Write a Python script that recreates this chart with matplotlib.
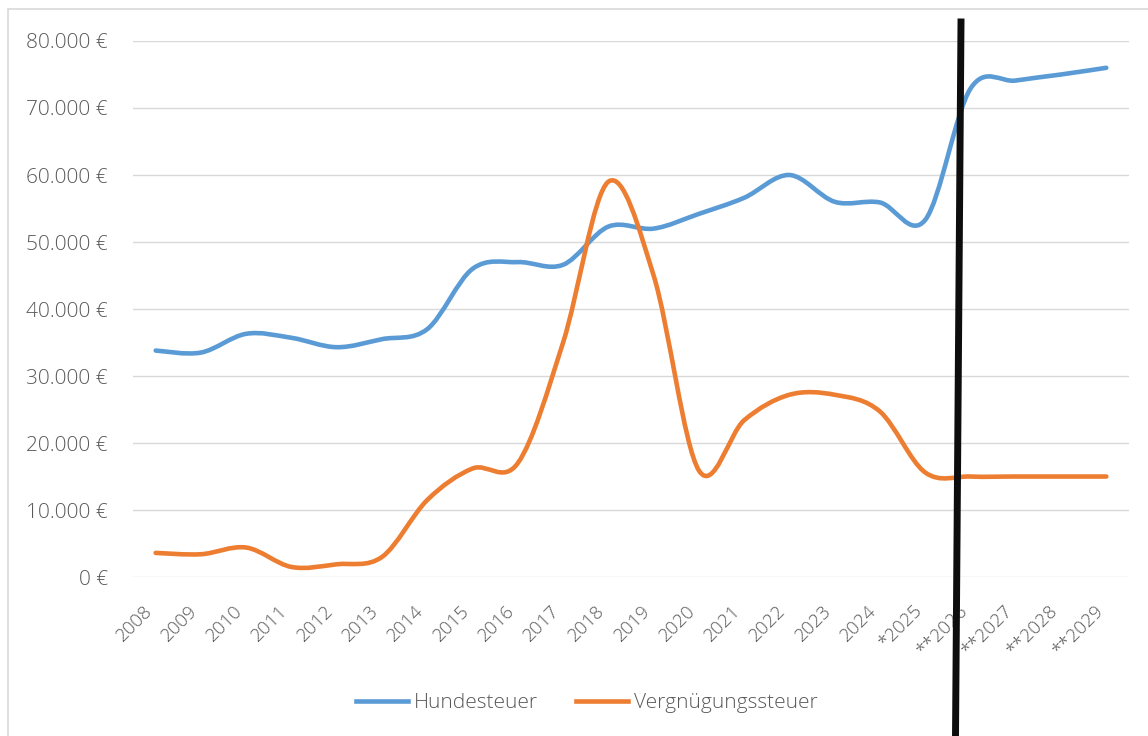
import matplotlib.pyplot as plt
from matplotlib.path import Path
from matplotlib.patches import PathPatch, Rectangle
from matplotlib.lines import Line2D
from matplotlib.ticker import FuncFormatter

# Daten
jahre = ['2008', '2009', '2010', '2011', '2012', '2013', '2014', '2015', '2016', '2017', '2018',
         '2019', '2020', '2021', '2022', '2023', '2024', '*2025', '**2026', '**2027', '**2028', '**2029']
hundesteuer = [33800, 33500, 36300, 35700, 34300, 35500, 37000, 46000, 47000, 46600, 52300,
               52000, 54200, 56600, 60000, 56000, 55900, 53300, 72900, 74100, 75000, 76000]
vergnuegungssteuer = [3600, 3400, 4400, 1500, 1900, 3000, 11500, 16200, 17000, 35000, 59000,
                      45000, 15900, 23400, 27200, 27200, 24700, 15600, 15000, 15000, 15000, 15000]

blau = '#5B9BD5'
orange = '#ED7D31'
grau = '#595959'

plt.rcParams['font.family'] = ['Open Sans', 'DejaVu Sans']


def glatte_linie(xs, ys):
    # geglaettete Linie wie in Excel (Bezier mit Catmull-Rom Tangenten)
    pts = list(zip(xs, ys))
    n = len(pts)
    verts = [pts[0]]
    codes = [Path.MOVETO]
    for i in range(n - 1):
        p0 = pts[max(i - 1, 0)]
        p1 = pts[i]
        p2 = pts[i + 1]
        p3 = pts[min(i + 2, n - 1)]
        c1 = (p1[0] + (p2[0] - p0[0]) / 6, p1[1] + (p2[1] - p0[1]) / 6)
        c2 = (p2[0] - (p3[0] - p1[0]) / 6, p2[1] - (p3[1] - p1[1]) / 6)
        verts += [c1, c2, p2]
        codes += [Path.CURVE4] * 3
    return Path(verts, codes)


fig = plt.figure(figsize=(11.48, 7.36), dpi=100)
ax = fig.add_axes([0.1159, 0.2160, 0.8675, 0.7283])

x = list(range(len(jahre)))
for werte, farbe in [(hundesteuer, blau), (vergnuegungssteuer, orange)]:
    ax.add_patch(PathPatch(glatte_linie(x, werte), facecolor='none', edgecolor=farbe,
                           lw=3.3, capstyle='round', joinstyle='round', zorder=3))

ax.set_xlim(-0.5, len(jahre) - 0.5)
ax.set_ylim(0, 80000)
ax.set_yticks(range(0, 80001, 10000))
ax.yaxis.set_major_formatter(FuncFormatter(lambda v, p: f'{int(v):,} €'.replace(',', '.')))
ax.set_xticks(x)
ax.set_xticklabels(jahre, rotation=45, ha='right')
ax.grid(axis='y', color='#D9D9D9', lw=1.0)
ax.set_axisbelow(True)
for s in ax.spines.values():
    s.set_visible(False)
ax.tick_params(axis='both', length=0, colors=grau)
ax.tick_params(axis='y', labelsize=15, pad=18)
ax.tick_params(axis='x', labelsize=13.5, pad=18)
for t in ax.get_xticklabels() + ax.get_yticklabels():
    t.set_fontweight('light')

# Legende
handles = [Line2D([], [], color=blau, lw=3.3), Line2D([], [], color=orange, lw=3.3)]
leg = fig.legend(handles, ['Hundesteuer', 'Vergnügungssteuer'], loc='center',
                 bbox_to_anchor=(587 / 1148, 1 - 703 / 736), ncol=2, frameon=False,
                 fontsize=15, handlelength=2.5, columnspacing=1.8, handletextpad=0.3)
for t in leg.get_texts():
    t.set_color(grau)
    t.set_fontweight('light')

# Rahmen vom Diagrammbereich
fig.patches.append(Rectangle((8 / 1148, -0.1), 1.2, 1 - 9 / 736 + 0.1, transform=fig.transFigure,
                             fill=False, edgecolor='#D9D9D9', lw=1.2))

# schwarze Trennlinie (Prognose)
fig.add_artist(Line2D([961 / 1148, 955.5 / 1148], [1 - 22 / 736, 0], transform=fig.transFigure,
                      color='#0D0D0D', lw=5, zorder=10))

plt.savefig('out.png', dpi=100)
